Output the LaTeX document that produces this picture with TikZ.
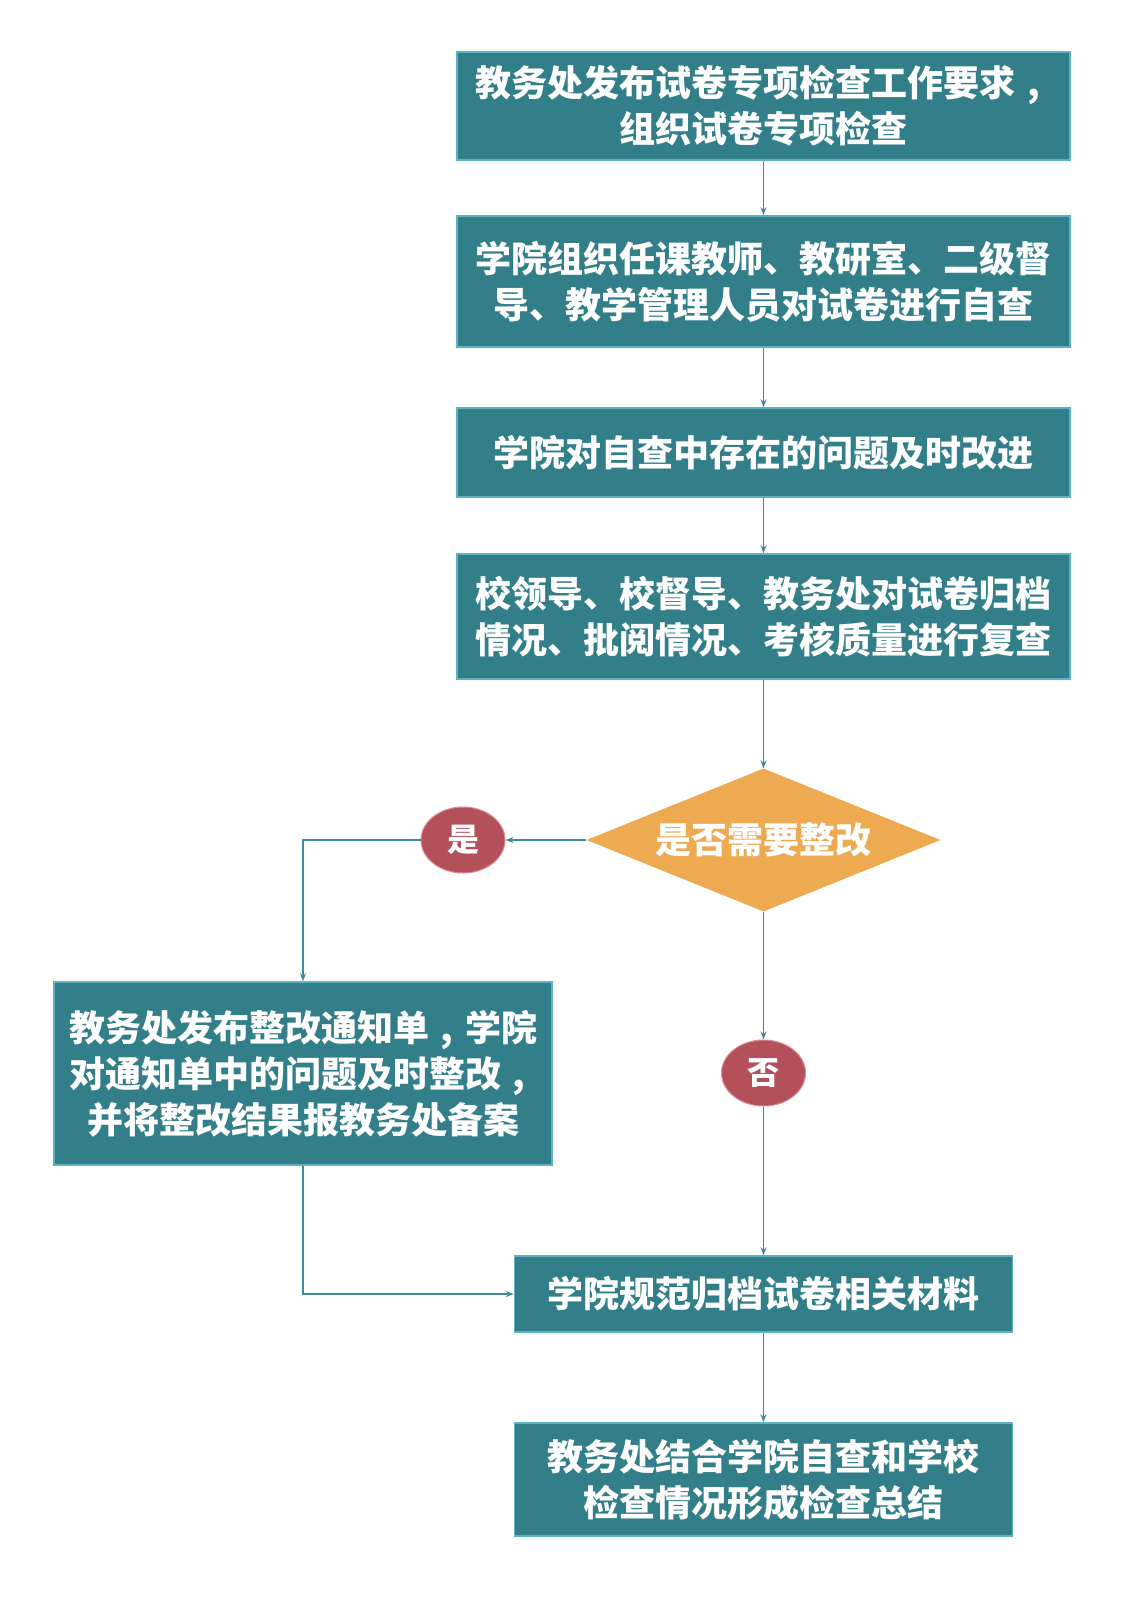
\documentclass[tikz,border=0pt]{standalone}
\usepackage{fontspec}
\newfontfamily\cjk{Noto Sans CJK SC}
\newcommand{\zcomma}{\makebox[1em][c]{,}}
\usetikzlibrary{shapes.geometric,arrows.meta}
\definecolor{boxfill}{HTML}{327F8A}
\definecolor{boxedge}{HTML}{5DB3C2}
\definecolor{linec}{HTML}{3F8C99}
\definecolor{diafill}{HTML}{EEAA50}
\definecolor{ellfill}{HTML}{B4505A}
\definecolor{elledge}{HTML}{E08C95}
\begin{document}
\begin{tikzpicture}[x=1pt,y=-1pt,
  every node/.style={font=\cjk\bfseries\fontsize{36}{46}\selectfont, text=white, align=center, inner sep=0pt},
  flowbox/.style={rectangle, fill=boxfill, draw=boxedge, line width=1.5pt},
  decide/.style={diamond, fill=diafill, draw=none, aspect=2.5},
  answer/.style={ellipse, fill=ellfill, draw=elledge, line width=1pt, minimum width=84pt, minimum height=66pt, font=\cjk\bfseries\fontsize{32}{36}\selectfont},
  conn/.style={draw=linec, line width=1.3pt},
  arr/.style={conn, -{Stealth[length=8pt,width=6pt]}}]
\useasboundingbox[fill=white] (0,0) rectangle (1141,1600);
\node[flowbox, minimum width=613pt, minimum height=108pt] (b1) at (763.5,106) {教务处发布试卷专项检查工作要求\zcomma\\组织试卷专项检查};
\node[flowbox, minimum width=613pt, minimum height=131pt] (b2) at (763.5,281.5) {学院组织任课教师、教研室、二级督\\导、教学管理人员对试卷进行自查};
\node[flowbox, minimum width=613pt, minimum height=89pt] (b3) at (763.5,452.5) {学院对自查中存在的问题及时改进};
\node[flowbox, minimum width=613pt, minimum height=125pt] (b4) at (763.5,616.5) {校领导、校督导、教务处对试卷归档\\情况、批阅情况、考核质量进行复查};
\node[decide, minimum width=354pt, minimum height=143pt] (d) at (763.5,840) {是否需要整改};
\node[answer] (yes) at (463,840) {是};
\node[answer] (no) at (763.5,1073) {否};
\node[flowbox, minimum width=498pt, minimum height=183pt] (b5) at (303,1073.5) {教务处发布整改通知单\zcomma 学院\\对通知单中的问题及时整改\zcomma\\并将整改结果报教务处备案};
\node[flowbox, minimum width=498pt, minimum height=76pt] (b6) at (763.5,1294) {学院规范归档试卷相关材料};
\node[flowbox, minimum width=498pt, minimum height=113pt] (b7) at (763.5,1479.5) {教务处结合学院自查和学校\\检查情况形成检查总结};
\draw[arr] (b1.south) -- (b2.north);
\draw[arr] (b2.south) -- (b3.north);
\draw[arr] (b3.south) -- (b4.north);
\draw[arr] (b4.south) -- (d.north);
\draw[arr] (d.west) -- (yes.east);
\draw[arr] (yes.west) -| (b5.north);
\draw[arr] (d.south) -- (no.north);
\draw[arr] (no.south) -- (b6.north);
\draw[arr] (b5.south) |- (b6.west);
\draw[arr] (b6.south) -- (b7.north);
\end{tikzpicture}
\end{document}
